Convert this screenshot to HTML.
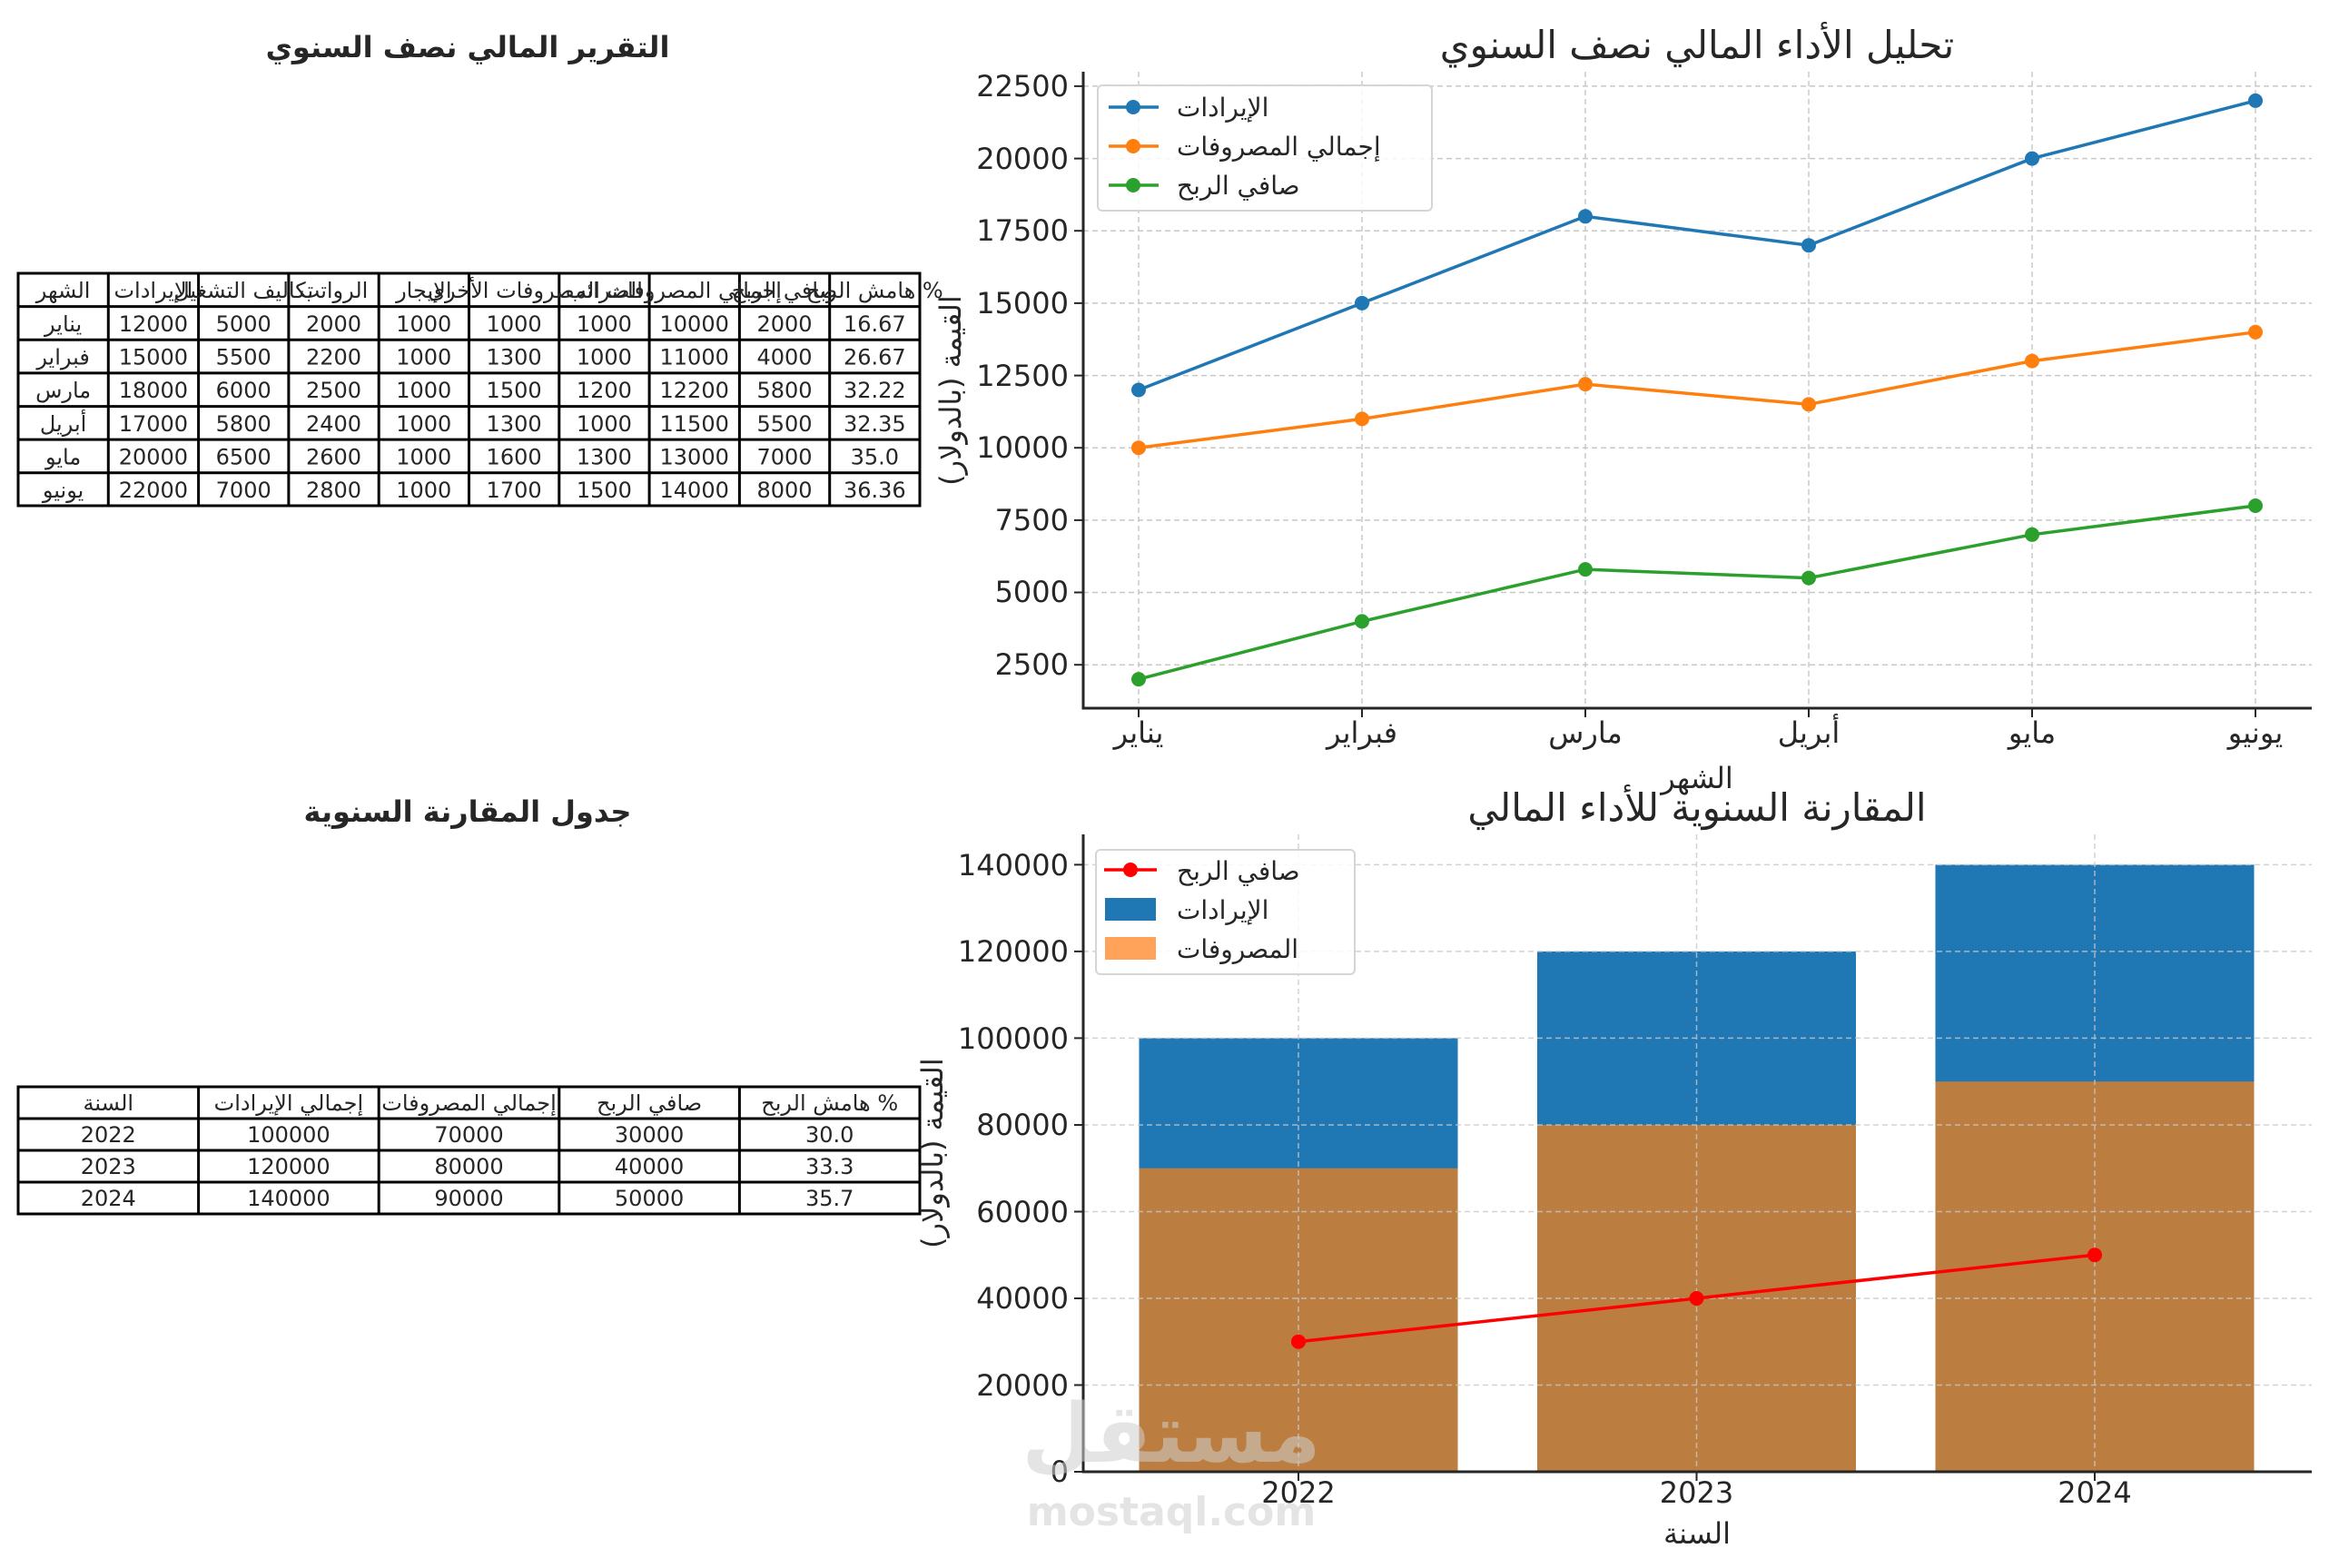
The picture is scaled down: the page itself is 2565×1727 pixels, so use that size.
<!DOCTYPE html>
<html><head><meta charset="utf-8"><style>
html,body{margin:0;padding:0;background:#fff;}
svg{display:block;font-family:"DejaVu Sans","Noto Sans CJK SC",sans-serif;}
</style></head><body>
<svg width="2565" height="1727" viewBox="0 0 2565 1727" xmlns="http://www.w3.org/2000/svg">
<rect width="2565" height="1727" fill="#fff"/>

<text x="515" y="63" font-size="32" font-weight="bold" text-anchor="middle" fill="#262626">التقرير المالي نصف السنوي</text>
<text x="515" y="905" font-size="32" font-weight="bold" text-anchor="middle" fill="#262626">جدول المقارنة السنوية</text>

<g stroke="#000" stroke-width="3" fill="none">
<rect x="20" y="301" width="993" height="256"/>
<line x1="20" y1="337.6" x2="1013" y2="337.6"/><line x1="20" y1="374.3" x2="1013" y2="374.3"/>
<line x1="20" y1="410.9" x2="1013" y2="410.9"/><line x1="20" y1="447.6" x2="1013" y2="447.6"/>
<line x1="20" y1="484.1" x2="1013" y2="484.1"/><line x1="20" y1="520.7" x2="1013" y2="520.7"/>
<line x1="119.3" y1="301" x2="119.3" y2="557"/><line x1="218.6" y1="301" x2="218.6" y2="557"/>
<line x1="317.9" y1="301" x2="317.9" y2="557"/><line x1="417.2" y1="301" x2="417.2" y2="557"/>
<line x1="516.5" y1="301" x2="516.5" y2="557"/><line x1="615.8" y1="301" x2="615.8" y2="557"/>
<line x1="715.1" y1="301" x2="715.1" y2="557"/><line x1="814.4" y1="301" x2="814.4" y2="557"/>
<line x1="913.7" y1="301" x2="913.7" y2="557"/>
</g>
<g font-size="24" fill="#262626" text-anchor="middle">
<text x="69.6" y="328">الشهر</text><text x="168.9" y="328">الإيرادات</text><text x="268.2" y="328">تكاليف التشغيل</text>
<text x="367.5" y="328">الرواتب</text><text x="466.8" y="328">الإيجار</text><text x="566.1" y="328">المصروفات الأخرى</text>
<text x="665.4" y="328">الضرائب</text><text x="764.7" y="328">إجمالي المصروفات</text><text x="864" y="328">صافي الربح</text><text x="963.3" y="328">هامش الربح %</text>
</g>
<g font-size="24" fill="#262626" text-anchor="middle">
<g transform="translate(0,365)"><text x="69.6">يناير</text><text x="168.9">12000</text><text x="268.2">5000</text><text x="367.5">2000</text><text x="466.8">1000</text><text x="566.1">1000</text><text x="665.4">1000</text><text x="764.7">10000</text><text x="864">2000</text><text x="963.3">16.67</text></g>
<g transform="translate(0,401.6)"><text x="69.6">فبراير</text><text x="168.9">15000</text><text x="268.2">5500</text><text x="367.5">2200</text><text x="466.8">1000</text><text x="566.1">1300</text><text x="665.4">1000</text><text x="764.7">11000</text><text x="864">4000</text><text x="963.3">26.67</text></g>
<g transform="translate(0,438.2)"><text x="69.6">مارس</text><text x="168.9">18000</text><text x="268.2">6000</text><text x="367.5">2500</text><text x="466.8">1000</text><text x="566.1">1500</text><text x="665.4">1200</text><text x="764.7">12200</text><text x="864">5800</text><text x="963.3">32.22</text></g>
<g transform="translate(0,474.8)"><text x="69.6">أبريل</text><text x="168.9">17000</text><text x="268.2">5800</text><text x="367.5">2400</text><text x="466.8">1000</text><text x="566.1">1300</text><text x="665.4">1000</text><text x="764.7">11500</text><text x="864">5500</text><text x="963.3">32.35</text></g>
<g transform="translate(0,511.4)"><text x="69.6">مايو</text><text x="168.9">20000</text><text x="268.2">6500</text><text x="367.5">2600</text><text x="466.8">1000</text><text x="566.1">1600</text><text x="665.4">1300</text><text x="764.7">13000</text><text x="864">7000</text><text x="963.3">35.0</text></g>
<g transform="translate(0,548)"><text x="69.6">يونيو</text><text x="168.9">22000</text><text x="268.2">7000</text><text x="367.5">2800</text><text x="466.8">1000</text><text x="566.1">1700</text><text x="665.4">1500</text><text x="764.7">14000</text><text x="864">8000</text><text x="963.3">36.36</text></g>
</g>

<g stroke="#000" stroke-width="3" fill="none">
<rect x="20" y="1197" width="993" height="140"/>
<line x1="20" y1="1232" x2="1013" y2="1232"/><line x1="20" y1="1267" x2="1013" y2="1267"/><line x1="20" y1="1302" x2="1013" y2="1302"/>
<line x1="218.6" y1="1197" x2="218.6" y2="1337"/><line x1="417.2" y1="1197" x2="417.2" y2="1337"/>
<line x1="615.8" y1="1197" x2="615.8" y2="1337"/><line x1="814.4" y1="1197" x2="814.4" y2="1337"/>
</g>
<g font-size="24" fill="#262626" text-anchor="middle">
<g transform="translate(0,1223)"><text x="119.3">السنة</text><text x="317.9">إجمالي الإيرادات</text><text x="516.5">إجمالي المصروفات</text><text x="715.1">صافي الربح</text><text x="913.7">هامش الربح %</text></g>
<g transform="translate(0,1258)"><text x="119.3">2022</text><text x="317.9">100000</text><text x="516.5">70000</text><text x="715.1">30000</text><text x="913.7">30.0</text></g>
<g transform="translate(0,1293)"><text x="119.3">2023</text><text x="317.9">120000</text><text x="516.5">80000</text><text x="715.1">40000</text><text x="913.7">33.3</text></g>
<g transform="translate(0,1328)"><text x="119.3">2024</text><text x="317.9">140000</text><text x="516.5">90000</text><text x="715.1">50000</text><text x="913.7">35.7</text></g>
</g>

<text x="1869" y="64" font-size="42" text-anchor="middle" fill="#262626">تحليل الأداء المالي نصف السنوي</text>
<g stroke="#c8c8c8" stroke-width="1.5" stroke-dasharray="6,4">
<line x1="1254" y1="79" x2="1254" y2="780"/><line x1="1500" y1="79" x2="1500" y2="780"/><line x1="1746" y1="79" x2="1746" y2="780"/>
<line x1="1992" y1="79" x2="1992" y2="780"/><line x1="2238" y1="79" x2="2238" y2="780"/><line x1="2484" y1="79" x2="2484" y2="780"/>
<line x1="1193" y1="732.2" x2="2546" y2="732.2"/><line x1="1193" y1="652.5" x2="2546" y2="652.5"/><line x1="1193" y1="572.9" x2="2546" y2="572.9"/>
<line x1="1193" y1="493.2" x2="2546" y2="493.2"/><line x1="1193" y1="413.6" x2="2546" y2="413.6"/><line x1="1193" y1="333.9" x2="2546" y2="333.9"/>
<line x1="1193" y1="254.2" x2="2546" y2="254.2"/><line x1="1193" y1="174.6" x2="2546" y2="174.6"/><line x1="1193" y1="94.9" x2="2546" y2="94.9"/>
</g>
<g stroke="#262626" stroke-width="3"><line x1="1193" y1="79" x2="1193" y2="781.5"/><line x1="1191.5" y1="780" x2="2546" y2="780"/></g>
<g stroke="#262626" stroke-width="2">
<line x1="1183" y1="732.2" x2="1193" y2="732.2"/><line x1="1183" y1="652.5" x2="1193" y2="652.5"/><line x1="1183" y1="572.9" x2="1193" y2="572.9"/>
<line x1="1183" y1="493.2" x2="1193" y2="493.2"/><line x1="1183" y1="413.6" x2="1193" y2="413.6"/><line x1="1183" y1="333.9" x2="1193" y2="333.9"/>
<line x1="1183" y1="254.2" x2="1193" y2="254.2"/><line x1="1183" y1="174.6" x2="1193" y2="174.6"/><line x1="1183" y1="94.9" x2="1193" y2="94.9"/>
<line x1="1254" y1="780" x2="1254" y2="790"/><line x1="1500" y1="780" x2="1500" y2="790"/><line x1="1746" y1="780" x2="1746" y2="790"/>
<line x1="1992" y1="780" x2="1992" y2="790"/><line x1="2238" y1="780" x2="2238" y2="790"/><line x1="2484" y1="780" x2="2484" y2="790"/>
</g>
<g font-size="32" fill="#262626" text-anchor="end">
<text x="1177" y="743">2500</text><text x="1177" y="663">5000</text><text x="1177" y="584">7500</text><text x="1177" y="504">10000</text>
<text x="1177" y="425">12500</text><text x="1177" y="345">15000</text><text x="1177" y="265">17500</text><text x="1177" y="186">20000</text><text x="1177" y="106">22500</text>
</g>
<g font-size="32" fill="#262626" text-anchor="middle">
<text x="1254" y="818">يناير</text><text x="1500" y="818">فبراير</text><text x="1746" y="818">مارس</text>
<text x="1992" y="818">أبريل</text><text x="2238" y="818">مايو</text><text x="2484" y="818">يونيو</text>
<text x="1869" y="868">الشهر</text>
</g>
<text transform="translate(1058,430) rotate(-90)" font-size="32" fill="#262626" text-anchor="middle">القيمة (بالدولار)</text>
<g fill="none" stroke-width="3.5">
<polyline stroke="#1f77b4" points="1254,429.5 1500,333.9 1746,238.3 1992,270.2 2238,174.6 2484,110.9"/>
<polyline stroke="#ff7f0e" points="1254,493.2 1500,461.4 1746,423.1 1992,445.4 2238,397.6 2484,365.8"/>
<polyline stroke="#2ca02c" points="1254,748.1 1500,684.4 1746,627.1 1992,636.6 2238,588.8 2484,557"/>
</g>
<g fill="#1f77b4"><circle cx="1254" cy="429.5" r="8"/><circle cx="1500" cy="333.9" r="8"/><circle cx="1746" cy="238.3" r="8"/><circle cx="1992" cy="270.2" r="8"/><circle cx="2238" cy="174.6" r="8"/><circle cx="2484" cy="110.9" r="8"/></g>
<g fill="#ff7f0e"><circle cx="1254" cy="493.2" r="8"/><circle cx="1500" cy="461.4" r="8"/><circle cx="1746" cy="423.1" r="8"/><circle cx="1992" cy="445.4" r="8"/><circle cx="2238" cy="397.6" r="8"/><circle cx="2484" cy="365.8" r="8"/></g>
<g fill="#2ca02c"><circle cx="1254" cy="748.1" r="8"/><circle cx="1500" cy="684.4" r="8"/><circle cx="1746" cy="627.1" r="8"/><circle cx="1992" cy="636.6" r="8"/><circle cx="2238" cy="588.8" r="8"/><circle cx="2484" cy="557" r="8"/></g>
<rect x="1209" y="94" width="368" height="138" rx="5" fill="#fff" fill-opacity="0.85" stroke="#d5d5d5" stroke-width="2"/>
<g stroke-width="3.5"><line x1="1221" y1="118" x2="1276" y2="118" stroke="#1f77b4"/><line x1="1221" y1="161" x2="1276" y2="161" stroke="#ff7f0e"/><line x1="1221" y1="204" x2="1276" y2="204" stroke="#2ca02c"/></g>
<circle cx="1248" cy="118" r="8" fill="#1f77b4"/><circle cx="1248" cy="161" r="8" fill="#ff7f0e"/><circle cx="1248" cy="204" r="8" fill="#2ca02c"/>
<g font-size="28" fill="#262626"><text x="1296" y="128">الإيرادات</text><text x="1296" y="171">إجمالي المصروفات</text><text x="1296" y="214">صافي الربح</text></g>

<text x="1869" y="904" font-size="42" text-anchor="middle" fill="#262626">المقارنة السنوية للأداء المالي</text>
<rect x="1254.5" y="1143.4" width="351" height="477.6" fill="#1f77b4"/>
<rect x="1693" y="1047.9" width="351" height="573.1" fill="#1f77b4"/>
<rect x="2131.5" y="952.4" width="351" height="668.6" fill="#1f77b4"/>
<rect x="1254.5" y="1286.7" width="351" height="334.3" fill="#bc7d40"/>
<rect x="1693" y="1239" width="351" height="382" fill="#bc7d40"/>
<rect x="2131.5" y="1191.2" width="351" height="429.8" fill="#bc7d40"/>
<g stroke="#c8c8c8" stroke-width="1.5" stroke-dasharray="6,4" opacity="0.8">
<line x1="1430" y1="919" x2="1430" y2="1621"/><line x1="1868.5" y1="919" x2="1868.5" y2="1621"/><line x1="2307" y1="919" x2="2307" y2="1621"/>
<line x1="1193" y1="1525.5" x2="2546" y2="1525.5"/><line x1="1193" y1="1430" x2="2546" y2="1430"/><line x1="1193" y1="1334.5" x2="2546" y2="1334.5"/>
<line x1="1193" y1="1239" x2="2546" y2="1239"/><line x1="1193" y1="1143.4" x2="2546" y2="1143.4"/><line x1="1193" y1="1047.9" x2="2546" y2="1047.9"/><line x1="1193" y1="952.4" x2="2546" y2="952.4"/>
</g>
<g stroke="#262626" stroke-width="3"><line x1="1193" y1="919" x2="1193" y2="1622.5"/><line x1="1191.5" y1="1621" x2="2546" y2="1621"/></g>
<g stroke="#262626" stroke-width="2">
<line x1="1183" y1="1621" x2="1193" y2="1621"/><line x1="1183" y1="1525.5" x2="1193" y2="1525.5"/><line x1="1183" y1="1430" x2="1193" y2="1430"/><line x1="1183" y1="1334.5" x2="1193" y2="1334.5"/>
<line x1="1183" y1="1239" x2="1193" y2="1239"/><line x1="1183" y1="1143.4" x2="1193" y2="1143.4"/><line x1="1183" y1="1047.9" x2="1193" y2="1047.9"/><line x1="1183" y1="952.4" x2="1193" y2="952.4"/>
<line x1="1430" y1="1621" x2="1430" y2="1631"/><line x1="1868.5" y1="1621" x2="1868.5" y2="1631"/><line x1="2307" y1="1621" x2="2307" y2="1631"/>
</g>
<g font-size="32" fill="#262626" text-anchor="end">
<text x="1177" y="1632">0</text><text x="1177" y="1537">20000</text><text x="1177" y="1441">40000</text><text x="1177" y="1346">60000</text>
<text x="1177" y="1250">80000</text><text x="1177" y="1155">100000</text><text x="1177" y="1059">120000</text><text x="1177" y="964">140000</text>
</g>
<g font-size="32" fill="#262626" text-anchor="middle">
<text x="1430" y="1655">2022</text><text x="1868.5" y="1655">2023</text><text x="2307" y="1655">2024</text>
<text x="1869" y="1700">السنة</text>
</g>
<text transform="translate(1038,1270) rotate(-90)" font-size="32" fill="#262626" text-anchor="middle">القيمة (بالدولار)</text>
<polyline fill="none" stroke="#ff0000" stroke-width="3.5" points="1430,1477.7 1868.5,1430 2307,1382.2"/>
<g fill="#ff0000"><circle cx="1430" cy="1477.7" r="8"/><circle cx="1868.5" cy="1430" r="8"/><circle cx="2307" cy="1382.2" r="8"/></g>
<rect x="1207" y="936" width="285" height="137" rx="5" fill="#fff" fill-opacity="0.85" stroke="#d5d5d5" stroke-width="2"/>
<line x1="1216" y1="958" x2="1274" y2="958" stroke="#ff0000" stroke-width="3.5"/><circle cx="1245" cy="958" r="8" fill="#ff0000"/>
<rect x="1217" y="989" width="56" height="25" fill="#1f77b4"/>
<rect x="1217" y="1032" width="56" height="25" fill="#ffa35a"/>
<g font-size="28" fill="#262626"><text x="1296" y="969">صافي الربح</text><text x="1296" y="1012">الإيرادات</text><text x="1296" y="1055">المصروفات</text></g>

<g fill="#cfcfcf" opacity="0.55" font-weight="bold" text-anchor="middle">
<text x="1290" y="1610" font-size="90">مستقل</text>
<text x="1290" y="1680" font-size="44">mostaql.com</text>
</g>
</svg>
</body></html>
